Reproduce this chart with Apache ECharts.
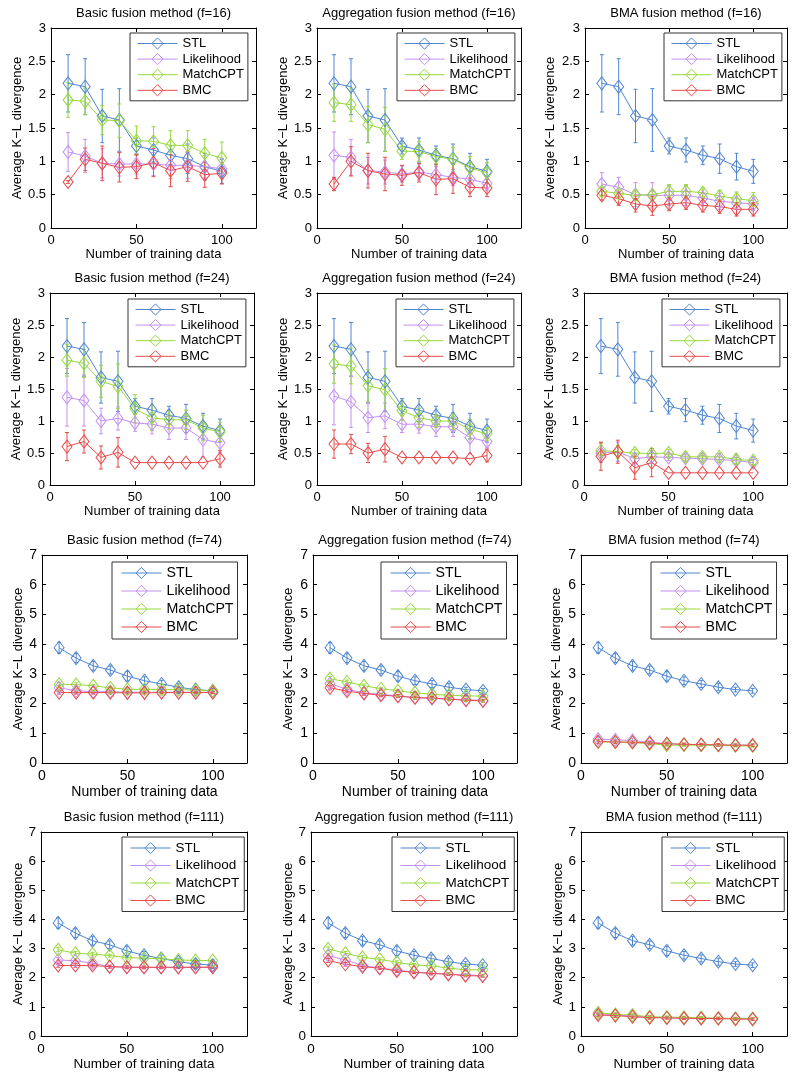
<!DOCTYPE html>
<html><head><meta charset="utf-8">
<script src="https://cdn.jsdelivr.net/npm/echarts@6/dist/echarts.min.js"></script>
<style>html,body{margin:0;padding:0;background:#fff}#c{width:800px;height:1077px}</style>
</head><body><div id="c"></div><script>
// ---------------- DATA ----------------
const xValues = [10, 20, 30, 40, 50, 60, 70, 80, 90, 100];
const seriesNames = ['STL', 'Likelihood', 'MatchCPT', 'BMC'];
const panelTitles = [
  'Basic fusion method (f=16)', 'Aggregation fusion method (f=16)', 'BMA fusion method (f=16)',
  'Basic fusion method (f=24)', 'Aggregation fusion method (f=24)', 'BMA fusion method (f=24)',
  'Basic fusion method (f=74)', 'Aggregation fusion method (f=74)', 'BMA fusion method (f=74)',
  'Basic fusion method (f=111)', 'Aggregation fusion method (f=111)', 'BMA fusion method (f=111)'
];
const xTickLabels = [0, 50, 100];
const xAxisTitle = 'Number of training data';
const yAxisTitle = 'Average K\u2212L divergence';

// STL (shared)
const stl16 = [2.17, 2.12, 1.68, 1.62, 1.23, 1.17, 1.09, 1.04, 0.92, 0.85];
const stl16Err = [0.43, 0.42, 0.40, 0.47, 0.12, 0.18, 0.14, 0.22, 0.20, 0.18];
const stl74 = [3.88, 3.53, 3.27, 3.13, 2.92, 2.77, 2.66, 2.55, 2.47, 2.43];
const stl74Err = [0.18, 0.15, 0.15, 0.13, 0.16, 0.13, 0.12, 0.12, 0.08, 0.08];

// f=16
const basic16Lik = [1.14, 1.08, 0.97, 0.96, 0.96, 0.96, 0.94, 0.94, 0.92, 0.89];
const basic16LikErr = [0.29, 0.25, 0.22, 0.18, 0.15, 0.17, 0.20, 0.20, 0.17, 0.15];
const basic16Match = [1.92, 1.90, 1.62, 1.61, 1.31, 1.30, 1.24, 1.24, 1.12, 1.05];
const basic16MatchErr = [0.26, 0.20, 0.22, 0.25, 0.22, 0.22, 0.22, 0.22, 0.21, 0.24];
const basic16Bmc = [0.69, 1.03, 0.97, 0.91, 0.92, 0.98, 0.86, 0.92, 0.80, 0.82];
const basic16BmcErr = [0.02, 0.17, 0.26, 0.22, 0.18, 0.21, 0.24, 0.22, 0.19, 0.16];

const agg16Lik = [1.09, 1.06, 0.86, 0.84, 0.81, 0.84, 0.80, 0.76, 0.73, 0.67];
const agg16LikErr = [0.35, 0.27, 0.20, 0.18, 0.12, 0.12, 0.12, 0.12, 0.12, 0.10];
const agg16Match = [1.88, 1.85, 1.55, 1.48, 1.15, 1.15, 1.07, 1.03, 0.90, 0.83];
const agg16MatchErr = [0.28, 0.25, 0.27, 0.33, 0.12, 0.15, 0.12, 0.18, 0.17, 0.15];
const agg16Bmc = [0.66, 1.00, 0.86, 0.81, 0.79, 0.83, 0.73, 0.74, 0.61, 0.60];
const agg16BmcErr = [0.10, 0.22, 0.26, 0.25, 0.15, 0.14, 0.23, 0.22, 0.14, 0.13];

const bma16Lik = [0.66, 0.61, 0.50, 0.49, 0.49, 0.49, 0.45, 0.40, 0.38, 0.36];
const bma16LikErr = [0.17, 0.15, 0.18, 0.19, 0.15, 0.15, 0.12, 0.12, 0.10, 0.10];
const bma16Match = [0.55, 0.52, 0.49, 0.50, 0.55, 0.55, 0.53, 0.48, 0.44, 0.41];
const bma16MatchErr = [0.06, 0.05, 0.05, 0.05, 0.10, 0.10, 0.07, 0.08, 0.10, 0.12];
const bma16Bmc = [0.49, 0.44, 0.36, 0.33, 0.36, 0.38, 0.34, 0.32, 0.28, 0.28];
const bma16BmcErr = [0.07, 0.10, 0.12, 0.14, 0.10, 0.10, 0.10, 0.10, 0.10, 0.10];

// f=24
const basic24Lik = [1.37, 1.32, 1.00, 1.04, 0.97, 0.95, 0.89, 0.89, 0.71, 0.66];
const basic24LikErr = [0.45, 0.40, 0.20, 0.18, 0.13, 0.15, 0.18, 0.18, 0.27, 0.15];
const basic24Match = [1.95, 1.90, 1.62, 1.54, 1.19, 1.05, 1.02, 1.02, 0.89, 0.83];
const basic24MatchErr = [0.25, 0.22, 0.25, 0.35, 0.22, 0.20, 0.15, 0.15, 0.20, 0.15];
const basic24Bmc = [0.60, 0.68, 0.43, 0.51, 0.35, 0.35, 0.35, 0.35, 0.35, 0.41];
const basic24BmcErr = [0.22, 0.18, 0.18, 0.23, 0.00, 0.00, 0.00, 0.00, 0.00, 0.13];

const agg24Lik = [1.39, 1.30, 1.05, 1.08, 0.95, 0.95, 0.91, 0.91, 0.74, 0.68];
const agg24LikErr = [0.45, 0.40, 0.23, 0.20, 0.13, 0.14, 0.15, 0.15, 0.25, 0.10];
const agg24Match = [1.89, 1.86, 1.55, 1.49, 1.16, 1.05, 1.00, 1.00, 0.87, 0.80];
const agg24MatchErr = [0.30, 0.28, 0.25, 0.33, 0.15, 0.15, 0.10, 0.13, 0.15, 0.10];
const agg24Bmc = [0.64, 0.64, 0.50, 0.56, 0.43, 0.43, 0.43, 0.43, 0.41, 0.46];
const agg24BmcErr = [0.22, 0.15, 0.15, 0.20, 0.00, 0.00, 0.00, 0.00, 0.00, 0.10];

const bma24Lik = [0.50, 0.52, 0.41, 0.44, 0.43, 0.42, 0.41, 0.40, 0.38, 0.35];
const bma24LikErr = [0.15, 0.15, 0.08, 0.10, 0.05, 0.05, 0.05, 0.05, 0.05, 0.05];
const bma24Match = [0.54, 0.52, 0.50, 0.49, 0.50, 0.44, 0.44, 0.44, 0.40, 0.38];
const bma24MatchErr = [0.12, 0.10, 0.05, 0.05, 0.05, 0.05, 0.05, 0.05, 0.08, 0.06];
const bma24Bmc = [0.45, 0.52, 0.27, 0.35, 0.19, 0.19, 0.19, 0.19, 0.19, 0.19];
const bma24BmcErr = [0.22, 0.18, 0.18, 0.22, 0.00, 0.00, 0.00, 0.00, 0.00, 0.00];

// f=74
const basic74Lik = [2.53, 2.43, 2.40, 2.40, 2.38, 2.38, 2.38, 2.38, 2.38, 2.38];
const basic74LikErr = [0.08, 0.07, 0.06, 0.05, 0.05, 0.05, 0.05, 0.04, 0.04, 0.04];
const basic74Match = [2.65, 2.64, 2.60, 2.53, 2.48, 2.48, 2.47, 2.47, 2.45, 2.43];
const basic74MatchErr = [0.06, 0.06, 0.05, 0.05, 0.05, 0.04, 0.04, 0.04, 0.04, 0.04];
const basic74Bmc = [2.37, 2.37, 2.37, 2.37, 2.36, 2.36, 2.37, 2.37, 2.37, 2.37];
const basic74BmcErr = [0.05, 0.05, 0.05, 0.05, 0.04, 0.04, 0.04, 0.04, 0.04, 0.04];

const agg74Lik = [2.67, 2.48, 2.36, 2.31, 2.26, 2.20, 2.17, 2.15, 2.13, 2.11];
const agg74LikErr = [0.08, 0.07, 0.06, 0.05, 0.05, 0.05, 0.05, 0.05, 0.04, 0.04];
const agg74Match = [2.84, 2.73, 2.60, 2.50, 2.43, 2.36, 2.31, 2.28, 2.26, 2.25];
const agg74MatchErr = [0.07, 0.06, 0.06, 0.05, 0.05, 0.05, 0.05, 0.04, 0.04, 0.04];
const agg74Bmc = [2.53, 2.42, 2.34, 2.28, 2.25, 2.20, 2.19, 2.15, 2.11, 2.09];
const agg74BmcErr = [0.07, 0.06, 0.06, 0.05, 0.05, 0.05, 0.05, 0.04, 0.04, 0.04];

const bma74Lik = [0.80, 0.78, 0.76, 0.70, 0.65, 0.62, 0.62, 0.60, 0.60, 0.60];
const bma74LikErr = [0.08, 0.07, 0.07, 0.05, 0.05, 0.04, 0.04, 0.04, 0.04, 0.04];
const bma74Match = [0.71, 0.71, 0.69, 0.65, 0.60, 0.60, 0.60, 0.60, 0.58, 0.57];
const bma74MatchErr = [0.06, 0.06, 0.05, 0.05, 0.05, 0.04, 0.04, 0.04, 0.04, 0.04];
const bma74Bmc = [0.72, 0.71, 0.70, 0.67, 0.65, 0.63, 0.62, 0.61, 0.60, 0.60];
const bma74BmcErr = [0.06, 0.06, 0.05, 0.05, 0.05, 0.04, 0.04, 0.04, 0.04, 0.04];

// f=111
const basic111Lik = [2.61, 2.58, 2.50, 2.38, 2.36, 2.35, 2.35, 2.35, 2.35, 2.36];
const basic111LikErr = [0.08, 0.07, 0.06, 0.05, 0.05, 0.05, 0.05, 0.04, 0.04, 0.04];
const basic111Match = [2.96, 2.84, 2.81, 2.76, 2.69, 2.67, 2.65, 2.61, 2.59, 2.59];
const basic111MatchErr = [0.07, 0.06, 0.06, 0.05, 0.05, 0.05, 0.05, 0.04, 0.04, 0.04];
const basic111Bmc = [2.42, 2.42, 2.42, 2.38, 2.36, 2.36, 2.36, 2.36, 2.36, 2.36];
const basic111BmcErr = [0.06, 0.06, 0.05, 0.05, 0.05, 0.04, 0.04, 0.04, 0.04, 0.04];

const agg111Lik = [2.76, 2.61, 2.42, 2.33, 2.27, 2.19, 2.15, 2.12, 2.10, 2.07];
const agg111LikErr = [0.08, 0.07, 0.06, 0.05, 0.05, 0.05, 0.05, 0.05, 0.04, 0.04];
const agg111Match = [2.99, 2.84, 2.70, 2.63, 2.53, 2.44, 2.41, 2.33, 2.27, 2.27];
const agg111MatchErr = [0.07, 0.06, 0.06, 0.05, 0.05, 0.05, 0.05, 0.04, 0.04, 0.04];
const agg111Bmc = [2.59, 2.46, 2.38, 2.33, 2.23, 2.19, 2.15, 2.12, 2.07, 2.06];
const agg111BmcErr = [0.07, 0.06, 0.06, 0.05, 0.05, 0.05, 0.05, 0.04, 0.04, 0.04];

const bma111Lik = [0.76, 0.72, 0.69, 0.64, 0.63, 0.61, 0.61, 0.60, 0.60, 0.58];
const bma111LikErr = [0.06, 0.06, 0.05, 0.05, 0.04, 0.04, 0.04, 0.04, 0.04, 0.04];
const bma111Match = [0.80, 0.74, 0.72, 0.66, 0.65, 0.64, 0.63, 0.61, 0.60, 0.60];
const bma111MatchErr = [0.06, 0.06, 0.05, 0.05, 0.04, 0.04, 0.04, 0.04, 0.04, 0.04];
const bma111Bmc = [0.72, 0.70, 0.66, 0.63, 0.62, 0.61, 0.60, 0.60, 0.58, 0.58];
const bma111BmcErr = [0.06, 0.06, 0.05, 0.05, 0.04, 0.04, 0.04, 0.04, 0.04, 0.04];

// panel table built from the arrays above
const panelSeries = [
  [[stl16, stl16Err], [basic16Lik, basic16LikErr], [basic16Match, basic16MatchErr], [basic16Bmc, basic16BmcErr]],
  [[stl16, stl16Err], [agg16Lik, agg16LikErr], [agg16Match, agg16MatchErr], [agg16Bmc, agg16BmcErr]],
  [[stl16, stl16Err], [bma16Lik, bma16LikErr], [bma16Match, bma16MatchErr], [bma16Bmc, bma16BmcErr]],
  [[stl16, stl16Err], [basic24Lik, basic24LikErr], [basic24Match, basic24MatchErr], [basic24Bmc, basic24BmcErr]],
  [[stl16, stl16Err], [agg24Lik, agg24LikErr], [agg24Match, agg24MatchErr], [agg24Bmc, agg24BmcErr]],
  [[stl16, stl16Err], [bma24Lik, bma24LikErr], [bma24Match, bma24MatchErr], [bma24Bmc, bma24BmcErr]],
  [[stl74, stl74Err], [basic74Lik, basic74LikErr], [basic74Match, basic74MatchErr], [basic74Bmc, basic74BmcErr]],
  [[stl74, stl74Err], [agg74Lik, agg74LikErr], [agg74Match, agg74MatchErr], [agg74Bmc, agg74BmcErr]],
  [[stl74, stl74Err], [bma74Lik, bma74LikErr], [bma74Match, bma74MatchErr], [bma74Bmc, bma74BmcErr]],
  [[stl74, stl74Err], [basic111Lik, basic111LikErr], [basic111Match, basic111MatchErr], [basic111Bmc, basic111BmcErr]],
  [[stl74, stl74Err], [agg111Lik, agg111LikErr], [agg111Match, agg111MatchErr], [agg111Bmc, agg111BmcErr]],
  [[stl74, stl74Err], [bma111Lik, bma111LikErr], [bma111Match, bma111MatchErr], [bma111Bmc, bma111BmcErr]]
];
const yMaxByRow = [3, 3, 7, 7];
const yStepByRow = [0.5, 0.5, 1, 1];

// ---------------- LAYOUT / STYLE ----------------
const colors = ['#4f86d0', '#c390f2', '#98d83c', '#e84a4a'];
const rowY = [[28, 228], [293, 485], [555, 763], [832, 1036]];
const colX = [
  [[51, 256], [317, 521], [585, 787]],
  [[50, 254], [317, 521], [584, 787]],
  [[42, 247], [313, 517], [581, 787]],
  [[41, 247], [311, 517], [581, 787]]
];
const legendPos = [
  [[130, 33], [397, 33], [664, 33]],
  [[128, 299], [396, 299], [662, 299]],
  [[112, 562], [381, 562], [651, 562]],
  [[122, 837], [392, 837], [662, 837]]
];
const fontByRow = [13, 13, 14, 13.5];
const legendFontByRow = [13, 13, 14.2, 13.5];
const legendPadByRow = [[4, 4, 4, 7], [4, 4, 4, 7], [4, 4, 5, 9], [4, 5, 4, 8]];
const legendGapByRow = [2.6, 2.6, 4, 3.5];
const yNameGapByRow = [[27, 27, 28], [27, 27, 28], [16, 18, 18], [16, 16, 15]];
const xNameGapByRow = [20, 20, 22, 20];
const FONT = "'Liberation Sans', Arial, Helvetica, sans-serif";

const grids = [], xAxes = [], yAxes = [], legends = [], series = [];
for (let i = 0; i < 12; i++) {
  const r = Math.floor(i / 3), c = i % 3;
  const [x0, x1] = colX[r][c];
  const [y0, y1] = rowY[r];
  const fs = fontByRow[r];
  grids.push({ left: x0, top: y0, width: x1 - x0, height: y1 - y0, containLabel: false });
  const axLine = { show: true, onZero: false, lineStyle: { color: '#000', width: 1 } };
  const tick = { show: true, inside: true, length: 4, lineStyle: { color: '#000' } };
  xAxes.push({
    gridIndex: i, type: 'value', min: 0, max: 120, interval: 50, position: 'bottom',
    name: xAxisTitle, nameLocation: 'middle', nameGap: xNameGapByRow[r],
    nameTextStyle: { fontSize: fs, color: '#000', fontFamily: FONT },
    axisLine: axLine, axisTick: tick, splitLine: { show: false },
    axisLabel: { fontSize: fs, color: '#000', margin: 6, fontFamily: FONT,
      formatter: v => (xTickLabels.indexOf(v) >= 0 ? String(v) : '') }
  });
  xAxes.push({
    gridIndex: i, type: 'value', min: 0, max: 120, interval: 50, position: 'top',
    name: panelTitles[i], nameLocation: 'middle', nameGap: 8,
    nameTextStyle: { fontSize: 13, color: '#000', fontFamily: FONT },
    axisLine: axLine, axisTick: tick, splitLine: { show: false }, axisLabel: { show: false }
  });
  yAxes.push({
    gridIndex: i, type: 'value', min: 0, max: yMaxByRow[r], interval: yStepByRow[r], position: 'left',
    name: yAxisTitle, nameLocation: 'middle', nameGap: yNameGapByRow[r][c],
    nameTextStyle: { fontSize: 13, color: '#000', fontFamily: FONT },
    axisLine: axLine, axisTick: tick, splitLine: { show: false },
    axisLabel: { fontSize: fs, color: '#000', margin: 5, fontFamily: FONT }
  });
  yAxes.push({
    gridIndex: i, type: 'value', min: 0, max: yMaxByRow[r], interval: yStepByRow[r], position: 'right',
    axisLine: axLine, axisTick: tick, splitLine: { show: false }, axisLabel: { show: false }
  });
  const [lx, ly] = legendPos[r][c];
  legends.push({
    orient: 'vertical', left: lx, top: ly, data: seriesNames, selectedMode: false,
    itemWidth: 40, itemHeight: 14, itemGap: legendGapByRow[r],
    padding: legendPadByRow[r], borderColor: '#333', borderWidth: 1, borderRadius: 0,
    backgroundColor: '#fff',
    lineStyle: { width: 1 },
    itemStyle: { borderWidth: 1 },
    textStyle: { fontSize: legendFontByRow[r], color: '#000', fontFamily: FONT }
  });
  panelSeries[i].forEach(([vals, errs], s) => {
    const col = colors[s];
    series.push({
      type: 'custom', name: 'err-' + i + '-' + s, xAxisIndex: 2 * i, yAxisIndex: 2 * i,
      silent: true, z: 2,
      data: xValues.map((x, k) => [x, vals[k], errs[k]]),
      encode: { x: 0, y: 1 },
      renderItem: (params, api) => {
        const x = api.value(0), y = api.value(1), e = api.value(2);
        if (!e) return null;
        const top = api.coord([x, y + e]);
        const bot = api.coord([x, y - e]);
        const cap = 2;
        const st = { stroke: col, lineWidth: 1, fill: null };
        return { type: 'group', children: [
          { type: 'line', shape: { x1: top[0], y1: top[1], x2: bot[0], y2: bot[1] }, style: st },
          { type: 'line', shape: { x1: top[0] - cap, y1: top[1], x2: top[0] + cap, y2: top[1] }, style: st },
          { type: 'line', shape: { x1: bot[0] - cap, y1: bot[1], x2: bot[0] + cap, y2: bot[1] }, style: st }
        ] };
      }
    });
    series.push({
      type: 'line', name: seriesNames[s], xAxisIndex: 2 * i, yAxisIndex: 2 * i, z: 3,
      data: xValues.map((x, k) => [x, vals[k]]),
      symbol: 'diamond', symbolSize: [10, 13], showSymbol: true,
      itemStyle: { color: 'rgba(255,255,255,0)', borderColor: col, borderWidth: 1 },
      lineStyle: { color: col, width: 1 },
      emphasis: { disabled: true }
    });
  });
}

const chart = echarts.init(document.getElementById('c'), null, { renderer: 'canvas' });
chart.setOption({
  animation: false,
  backgroundColor: '#fff',
  textStyle: { fontFamily: FONT },
  grid: grids, xAxis: xAxes, yAxis: yAxes, legend: legends, series: series
});
</script></body></html>
